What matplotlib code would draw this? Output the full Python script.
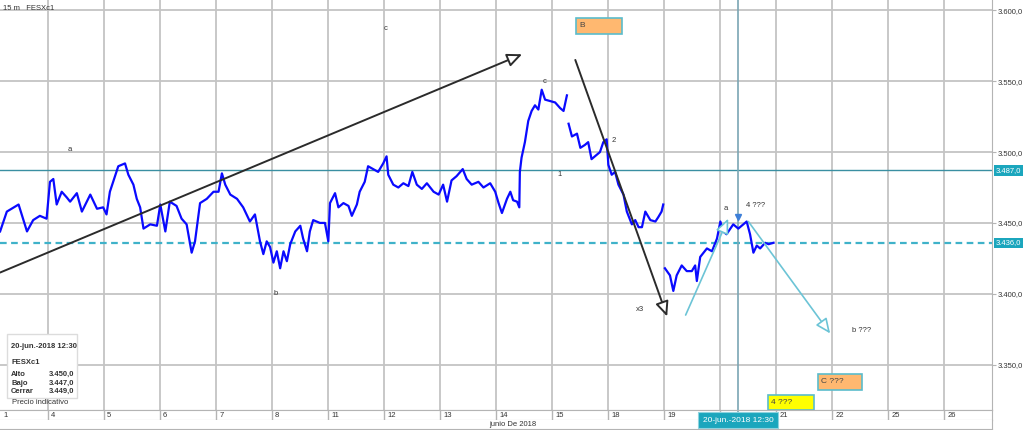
import matplotlib
matplotlib.use("Agg")
import matplotlib.pyplot as plt
from matplotlib.patches import Rectangle
from matplotlib.transforms import blended_transform_factory
import numpy as np

plt.rcParams['font.family'] = ['Liberation Sans', 'DejaVu Sans']

W, H = 1024, 430
nan = np.nan

# 15 m FESXc1 - time in trading days (0 = 1 jun), price
t_vals = [0.15, 0.27, 0.48, 0.63, 0.74, 0.86, 0.98, 1.04, 1.10, 1.16, 1.25, 1.34, 1.40, 1.52,
          1.61, 1.76, 1.88, 1.99, 2.05, 2.11, 2.26, 2.38, 2.44, 2.53, 2.59, 2.65, 2.71, 2.83,
          2.95, 3.01, 3.10, 3.18, 3.30, 3.39, 3.48, 3.57, 3.63, 3.72, 3.84, 3.96, 4.05, 4.11,
          4.17, 4.26, 4.38, 4.49, 4.61, 4.70, 4.79, 4.85, 4.91, 4.97, 5.03, 5.09, 5.15, 5.21,
          5.27, 5.33, 5.42, 5.51, 5.56, 5.63, 5.68, 5.74, 5.86, 5.95, 6.01, 6.04, 6.13, 6.19,
          6.28, 6.37, 6.43, 6.52, 6.57, 6.66, 6.72, 6.81, 6.90, 6.99, 7.05, 7.08, 7.17, 7.26,
          7.35, 7.44, 7.51, 7.59, 7.68, 7.77, 7.89, 7.98, 8.06, 8.13, 8.21, 8.30, 8.41, 8.48,
          8.57, 8.69, 8.78, 8.90, 8.99, 9.05, 9.11, 9.20, 9.26, 9.31, 9.38, 9.42, 9.43, 9.46,
          9.52, 9.58, 9.64, 9.70, 9.76, 9.82, 9.88, 9.97, 10.06, 10.15, 10.21, 10.27, nan,
          10.30, 10.36, 10.45, 10.51, 10.59, 10.65, 10.71, 10.77, 10.86, 10.92, 10.98, 11.01,
          11.07, 11.13, 11.19, 11.28, 11.34, 11.43, 11.49, 11.55, 11.61, 11.67, 11.76, 11.85,
          11.90, 11.96, 11.99, nan,
          12.02, 12.11, 12.17, 12.23, 12.32, 12.41, 12.50, 12.56, 12.59, 12.65, 12.77, 12.86,
          12.95, 13.01, 13.06, 13.12, 13.24, 13.33, 13.42, 13.48, 13.54, 13.60, 13.66, 13.72,
          13.81, 13.87, 13.96]
p_vals = [3444, 3458, 3463, 3444, 3452, 3455, 3453, 3479, 3481, 3463, 3472, 3468, 3465, 3471,
          3458, 3470, 3460, 3461, 3456, 3472, 3490, 3492, 3484, 3477, 3467, 3461, 3446, 3449,
          3448, 3463, 3444, 3465, 3462, 3453, 3449, 3429, 3437, 3464, 3467, 3472, 3472, 3485,
          3477, 3470, 3467, 3461, 3451, 3456, 3437, 3428, 3437, 3433, 3422, 3430, 3418, 3430,
          3423, 3435, 3444, 3448, 3439, 3430, 3444, 3452, 3450, 3450, 3437, 3464, 3471, 3461,
          3464, 3462, 3455, 3463, 3472, 3479, 3490, 3488, 3486, 3492, 3497, 3484, 3477, 3475,
          3478, 3476, 3486, 3477, 3474, 3478, 3472, 3470, 3477, 3465, 3480, 3483, 3488, 3481,
          3477, 3479, 3475, 3478, 3472, 3464, 3457, 3467, 3472, 3466, 3465, 3461, 3486, 3496,
          3507, 3522, 3529, 3533, 3530, 3544, 3537, 3536, 3535, 3531, 3529, 3540, nan,
          3520, 3511, 3513, 3503, 3505, 3507, 3495, 3497, 3500, 3507, 3509, 3491,
          3484, 3486, 3477, 3470, 3458, 3449, 3452, 3447, 3447, 3458, 3452, 3451,
          3454, 3458, 3463, nan,
          3418, 3413, 3402, 3413, 3420, 3416, 3416, 3420, 3409, 3426, 3432, 3430,
          3439, 3451, 3444, 3442, 3449, 3446, 3449, 3451, 3442, 3429, 3434, 3432,
          3436, 3435, 3436]

day_labels = ['1', '4', '5', '6', '7', '8', '11', '12', '13', '14', '15', '18', '19', '20',
              '21', '22', '25', '26']
month_label = 'junio De 2018'
y_ticks = [3350, 3400, 3450, 3500, 3550, 3600]
level_line = 3487
last_price = 3436
cursor_t = 13.33
cursor_text = '20-jun.-2018 12:30'
info_title = '20-jun.-2018 12:30'
info_symbol = 'FESXc1'
info_rows = [('Alto', 3450), ('Bajo', 3447), ('Cerrar', 3449)]

# hand drawn wave count
black_arrows = [((0.15, 3415), (9.47, 3569)), ((10.42, 3565), (12.06, 3384))]
blue_arrows = [((12.39, 3385), (13.15, 3453)), ((13.51, 3451), (14.97, 3372))]
wave_labels = [('a', 1.35, 3502), ('c', 6.99, 3587), ('c', 9.83, 3550), ('b', 5.04, 3400),
               ('1', 10.11, 3484), ('2', 11.06, 3508), ('x3', 11.50, 3389),
               ('a', 13.06, 3460), ('4 ???', 13.47, 3462), ('b ???', 15.36, 3374)]
boxes = [('B', 10.43, 11.25, 3583.4, 3594.6, '#ffb870'),
         ('C ???', 14.75, 15.54, 3332.2, 3343.5, '#ffb870'),
         ('4 ???', 13.86, 14.68, 3318.0, 3328.6, '#ffff00')]

XMIN, XMAX = 0.148, 17.86
YMIN, YMAX = 3318.0, 3607.3
GRID = '#c4c4c4'
TEAL = '#1ba6bd'
FS = 5.5


def fmt(v):
    s = f"{v:,.1f}"
    return s.replace(',', 'X').replace('.', ',').replace('X', '.')


fig = plt.figure(figsize=(W / 100, H / 100), dpi=100)
fig.patch.set_facecolor('white')

ax = fig.add_axes([0, 20 / H, 992 / W, 410 / H])
ax.set_xlim(XMIN, XMAX)
ax.set_ylim(YMIN, YMAX)
for s in ['top', 'left']:
    ax.spines[s].set_visible(False)
for s in ['right', 'bottom']:
    ax.spines[s].set_color('#b4b4b4')
ax.set_xticks([])
ax.yaxis.tick_right()
ax.set_yticks(y_ticks)
ax.set_yticklabels([fmt(v) for v in y_ticks])
ax.tick_params(axis='y', labelsize=FS, length=3, color='#b4b4b4', pad=1, labelcolor='#333333')
for v in y_ticks:
    ax.axhline(v, color=GRID, lw=1.3, zorder=0)
for i in range(len(day_labels)):
    ax.axvline(i, color=GRID, lw=1.3, zorder=0)

# price
ax.plot(t_vals, p_vals, color='#0a0aff', lw=1.6, zorder=3)

# levels
ax.axhline(level_line, color='#3a8fa2', lw=1.0, zorder=2)
ax.axhline(last_price, color='#3fb2c9', lw=1.6, ls=(0, (3, 2)), zorder=2)
ax.axvline(cursor_t, color='#7aa6b4', lw=1.2, zorder=2)
tr = blended_transform_factory(ax.transAxes, ax.transData)
for v in [level_line, last_price]:
    ax.text(1.004, v, fmt(v), transform=tr, ha='left', va='center', color='white', size=FS,
            clip_on=False, zorder=6,
            bbox=dict(boxstyle='square,pad=0.2', fc=TEAL, ec='none'))

# wave drawings
for (a, b) in black_arrows:
    ax.annotate('', xy=b, xytext=a,
                arrowprops=dict(arrowstyle='-|>,head_length=0.9,head_width=0.4', ec='#2b2b2b',
                                fc='white', lw=1.4, shrinkA=0, shrinkB=0), zorder=4)
for (a, b) in blue_arrows:
    ax.annotate('', xy=b, xytext=a,
                arrowprops=dict(arrowstyle='-|>,head_length=0.9,head_width=0.4', ec='#6cc4d6',
                                fc='white', lw=1.2, shrinkA=0, shrinkB=0), zorder=4)
ax.plot([cursor_t], [3454], marker='v', ms=4, color='#3d7fd8', zorder=5)
for s, tx, py in wave_labels:
    ax.text(tx, py, s, size=FS, color='#333333', ha='left', va='center', zorder=5)
for s, t0, t1, p0, p1, c in boxes:
    ax.add_patch(Rectangle((t0, p0), t1 - t0, p1 - p0, fc=c, ec='#5bbccc', lw=1.2, zorder=5))
    ax.text(t0 + 0.06, (p0 + p1) / 2, s, size=FS + 0.5, color='#444444', va='center', zorder=6)

ax.text(3 / 992, 1 - 8 / 410, '15 m   FESXc1', transform=ax.transAxes, size=FS,
        color='#333333', va='center', ha='left')

# date strip
ax_d = fig.add_axes([0, 10 / H, 992 / W, 10 / H])
ax_d.set_xlim(XMIN, XMAX)
ax_d.set_ylim(0, 1)
ax_d.set_xticks([])
ax_d.set_yticks([])
for s in ax_d.spines.values():
    s.set_color('#b4b4b4')
ax_d.spines['left'].set_visible(False)
for i, lab in enumerate(day_labels):
    ax_d.axvline(i, color='#b4b4b4', lw=1.0)
    if abs(i - cursor_t) < 0.6:
        continue  # hidden under the cursor tooltip
    ax_d.text(max(i, XMIN) + 0.06, 0.45, lab, size=FS, color='#333333', va='center', ha='left')
ax_d.axvline(cursor_t, color='#7aa6b4', lw=1.2)

ax_m = fig.add_axes([0, 1 / H, 992 / W, 9 / H])
ax_m.set_xticks([])
ax_m.set_yticks([])
for s in ax_m.spines.values():
    s.set_color('#b4b4b4')
ax_m.spines['left'].set_visible(False)
ax_m.spines['top'].set_visible(False)
ax_m.text(513 / 992, 0.5, month_label, transform=ax_m.transAxes, size=FS, color='#333333',
          ha='center', va='center')

# cursor tooltip
cx = (cursor_t - XMIN) / (XMAX - XMIN) * 992 / W
fig.text(cx, 10 / H, cursor_text, ha='center', va='center', size=FS + 0.5, color='white',
         bbox=dict(boxstyle='square,pad=0.55', fc=TEAL, ec='#8ed3df', lw=0.8))

# info box
fig.add_artist(Rectangle((7 / W, 1 - 398 / H), 70 / W, 64 / H, transform=fig.transFigure,
                         fc='white', ec='#dcdcdc', lw=1.0))
fig.text(11 / W, 1 - 346 / H, info_title, size=FS, weight='bold', color='#333333', va='center')
fig.text(11 / W, 1 - 363 / H, info_symbol, size=FS, weight='bold', color='#333333', va='center')
for k, (name, val) in enumerate(info_rows):
    yy = 1 - (374.5 + k * 8.6) / H
    fig.text(11 / W, yy, name, size=FS, weight='bold', color='#333333', va='center')
    fig.text(49 / W, yy, fmt(val), size=FS, weight='bold', color='#333333', va='center')
fig.text(12 / W, 1 - 403 / H, 'Precio indicativo', size=FS, color='#333333', va='center')

fig.savefig('out.png', dpi=100, facecolor='white')
